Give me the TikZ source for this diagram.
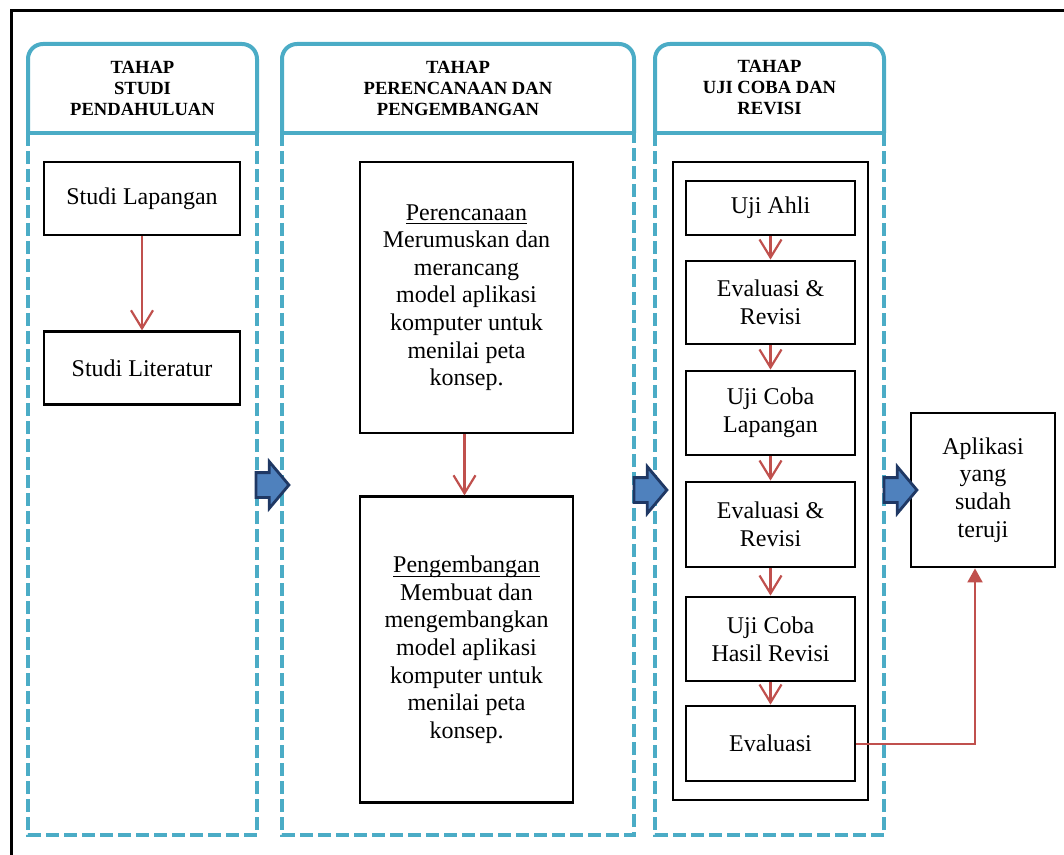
\documentclass[tikz,border=0pt]{standalone}
\usepackage{amsmath}
\usepackage{fontspec}
\setmainfont{Liberation Serif}
\usetikzlibrary{positioning, shapes.arrows, arrows.meta, calc}
\definecolor{PhaseTeal}{RGB}{75,172,198}
\definecolor{FlowRed}{RGB}{192,80,77}
\definecolor{ArrowNavy}{RGB}{31,56,100}
\definecolor{ArrowBlue}{RGB}{79,129,189}
\newcommand{\ulword}[1]{\underline{\smash[b]{#1}}}

\begin{document}
\begin{tikzpicture}[x=0.5pt, y=-0.5pt, every node/.style={font=\fontsize{12}{13.8}\selectfont},
  box/.style={rectangle, draw=black, line width=1.4pt, fill=white, align=center, inner sep=2pt},
  phasehead/.style={align=center, font=\bfseries\fontsize{9.3}{10.5}\selectfont},
  frame/.style={PhaseTeal, line width=2pt, rounded corners=7.5pt},
  body/.style={PhaseTeal, line width=2pt, dash pattern=on 6.5pt off 2.5pt},
  arrow/.style={-{Straight Barb[length=9pt, width=11pt]}, line width=1.1pt, FlowRed},
  feedback/.style={-{Triangle[length=7pt, width=7.5pt]}, line width=1pt, FlowRed},
  phasearrow/.style={single arrow, draw=ArrowNavy, fill=ArrowBlue, line width=1.4pt, minimum height=16.5pt, inner xsep=0pt, inner ysep=5.5pt, single arrow head extend=5.5pt, single arrow tip angle=100, anchor=tail}
]
\useasboundingbox (0,0) rectangle (1064,855);

% Outer border
\draw[line width=1.5pt] (11,11) rectangle (1100,900);

% Phase columns
\foreach \xl/\xr in {28/257, 282/634, 655/884} {
  \draw[frame] (\xl,133) -- (\xl,44) -- (\xr,44) -- (\xr,133);
  \draw[PhaseTeal, line width=2pt] (\xl,133) -- (\xr,133);
  \draw[body] (\xl,133) -- (\xl,835) -- (\xr,835) -- (\xr,133);
}

% Phase titles
\node[phasehead] (h1) at (142.5,88) {TAHAP\\STUDI\\PENDAHULUAN};
\node[phasehead] (h2) at (458,88) {TAHAP\\PERENCANAAN DAN\\PENGEMBANGAN};
\node[phasehead] (h3) at (769.5,88) {TAHAP\\UJI COBA DAN\\REVISI};

% Studi pendahuluan
\node[box, minimum width=98pt, minimum height=36.5pt] (lap) at (142,198.5) {Studi Lapangan};
\node[box, minimum width=98pt, minimum height=36.5pt, below=47pt of lap] (lit) {Studi Literatur};

% Perencanaan dan pengembangan
\node[box, minimum width=106.5pt, minimum height=135.5pt] (ren) at (466.5,297.5) {\ulword{Perencanaan}\\Merumuskan dan\\merancang\\model aplikasi\\komputer untuk\\menilai peta\\konsep.};
\node[box, minimum width=106.5pt, minimum height=153pt, below=30.5pt of ren] (bang) {\ulword{Pengembangan}\\Membuat dan\\mengembangkan\\model aplikasi\\komputer untuk\\menilai peta\\konsep.};

% Uji coba dan revisi
\node[box, minimum width=97.5pt, minimum height=319pt] (uji) at (770.5,481) {};
\node[box, minimum width=84.5pt, minimum height=27pt] (ahli) at (770.5,208) {Uji Ahli};
\node[box, minimum width=84.5pt, minimum height=41.5pt] (ev1) at (770.5,302.5) {Evaluasi \&\\Revisi};
\node[box, minimum width=84.5pt, minimum height=42pt] (ucl) at (770.5,413) {Uji Coba\\Lapangan};
\node[box, minimum width=84.5pt, minimum height=42.5pt] (ev2) at (770.5,524.5) {Evaluasi \&\\Revisi};
\node[box, minimum width=84.5pt, minimum height=42pt] (uch) at (770.5,639) {Uji Coba\\Hasil Revisi};
\node[box, minimum width=84.5pt, minimum height=37.5pt] (ev3) at (770.5,743.5) {Evaluasi};

% Result
\node[box, minimum width=72pt, minimum height=77pt] (apl) at (983,490) {Aplikasi\\yang\\sudah\\teruji};

% Phase arrows
\node[phasearrow] (pa1) at (254.5,485) {};
\node[phasearrow] (pa2) at (632.5,490) {};
\node[phasearrow] (pa3) at (882.5,490) {};

% Arrows
\draw[arrow] (lap) -- (lit);
\draw[arrow] ([xshift=-1pt]ren.south) -- ([xshift=-1pt]bang.north);
\draw[arrow] (ahli) -- (ev1);
\draw[arrow] (ev1) -- (ucl);
\draw[arrow] (ucl) -- (ev2);
\draw[arrow] (ev2) -- (uch);
\draw[arrow] (uch) -- (ev3);
\draw[feedback] (ev3.east) -| ([xshift=-4pt]apl.south);

\end{tikzpicture}
\end{document}
